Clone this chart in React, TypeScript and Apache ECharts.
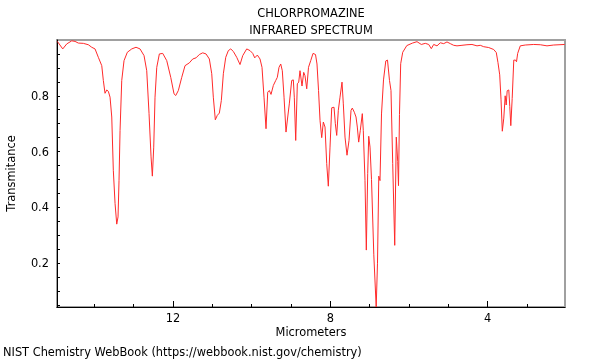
import React, { useEffect, useRef } from "react";
import * as echarts from "echarts";

const titleLines = ["CHLORPROMAZINE", "INFRARED SPECTRUM"];
const xAxisName = "Micrometers";
const yAxisName = "Transmitance";
const footer = "NIST Chemistry WebBook (https://webbook.nist.gov/chemistry)";

const xMajorTicks = [4, 8, 12];
const xMinorTicks = [3, 4, 5, 6, 7, 8, 9, 10, 11, 12, 13, 14];
const yLabels = [0.2, 0.4, 0.6, 0.8];
const yMinorTicks = [0.05, 0.1, 0.15, 0.2, 0.25, 0.3, 0.35, 0.4, 0.45, 0.5, 0.55, 0.6, 0.65, 0.7, 0.75, 0.8, 0.85, 0.9, 0.95];

// wavelength (micrometers)
const wavelength = [
  14.941, 14.804, 14.702, 14.575, 14.491, 14.407, 14.28, 14.153, 14.067, 13.983,
  13.899, 13.812, 13.772, 13.729, 13.685, 13.645, 13.601, 13.558, 13.518, 13.474,
  13.431, 13.398, 13.373, 13.347, 13.304, 13.246, 13.162, 13.05, 12.941, 12.839,
  12.737, 12.669, 12.61, 12.559, 12.526, 12.491, 12.458, 12.414, 12.348, 12.262,
  12.16, 12.058, 11.975, 11.931, 11.865, 11.779, 11.695, 11.586, 11.499, 11.415,
  11.331, 11.245, 11.161, 11.077, 11.016, 10.976, 10.925, 10.874, 10.823, 10.772,
  10.721, 10.66, 10.594, 10.533, 10.467, 10.381, 10.297, 10.228, 10.127, 10.043,
  9.974, 9.923, 9.857, 9.789, 9.738, 9.687, 9.636, 9.593, 9.552, 9.509,
  9.45, 9.389, 9.349, 9.306, 9.262, 9.222, 9.178, 9.128, 9.084, 9.044,
  8.983, 8.942, 8.917, 8.881, 8.84, 8.805, 8.772, 8.721, 8.678, 8.645,
  8.601, 8.556, 8.5, 8.441, 8.378, 8.34, 8.301, 8.263, 8.22, 8.179,
  8.136, 8.093, 8.052, 8.009, 7.966, 7.907, 7.874, 7.839, 7.798, 7.755,
  7.704, 7.671, 7.628, 7.577, 7.526, 7.475, 7.442, 7.391, 7.348, 7.315,
  7.28, 7.239, 7.188, 7.163, 7.12, 7.086, 7.051, 7.025, 6.992, 6.954,
  6.896, 6.835, 6.802, 6.769, 6.738, 6.7, 6.649, 6.591, 6.548, 6.497,
  6.459, 6.415, 6.364, 6.324, 6.288, 6.268, 6.243, 6.212, 6.161, 6.057,
  5.912, 5.798, 5.688, 5.587, 5.5, 5.434, 5.373, 5.289, 5.205, 5.119,
  5.035, 4.951, 4.865, 4.781, 4.654, 4.527, 4.4, 4.272, 4.189, 4.102,
  3.975, 3.848, 3.782, 3.739, 3.695, 3.662, 3.629, 3.591, 3.556, 3.53,
  3.505, 3.464, 3.439, 3.413, 3.378, 3.337, 3.294, 3.268, 3.238, 3.172,
  3.045, 2.831, 2.663, 2.493, 2.323, 2.043,
];

// transmittance
const transmittance = [
  0.995, 0.968, 0.986, 0.997, 0.995, 0.989, 0.988, 0.983, 0.974, 0.968,
  0.938, 0.908, 0.855, 0.809, 0.821, 0.816, 0.795, 0.724, 0.533, 0.414,
  0.34, 0.366, 0.497, 0.676, 0.855, 0.926, 0.956, 0.968, 0.974, 0.968,
  0.944, 0.89, 0.736, 0.581, 0.512, 0.616, 0.795, 0.902, 0.95, 0.952,
  0.926, 0.866, 0.807, 0.801, 0.819, 0.866, 0.908, 0.918, 0.932, 0.936,
  0.948, 0.954, 0.95, 0.932, 0.879, 0.795, 0.714, 0.73, 0.738, 0.783,
  0.879, 0.938, 0.962, 0.968, 0.959, 0.938, 0.912, 0.944, 0.968, 0.962,
  0.952, 0.936, 0.946, 0.932, 0.902, 0.795, 0.682, 0.813, 0.819, 0.805,
  0.837, 0.855, 0.866, 0.902, 0.914, 0.89, 0.795, 0.67, 0.724, 0.771,
  0.855, 0.857, 0.795, 0.64, 0.843, 0.849, 0.89, 0.835, 0.884, 0.872,
  0.825, 0.902, 0.926, 0.952, 0.948, 0.914, 0.819, 0.712, 0.65, 0.706,
  0.688, 0.557, 0.476, 0.616, 0.757, 0.759, 0.7, 0.658, 0.748, 0.795,
  0.849, 0.771, 0.652, 0.587, 0.64, 0.748, 0.756, 0.741, 0.724, 0.688,
  0.634, 0.676, 0.736, 0.676, 0.497, 0.247, 0.521, 0.655, 0.616, 0.5,
  0.23, 0.043, 0.2, 0.512, 0.496, 0.735, 0.857, 0.925, 0.928, 0.855,
  0.819, 0.557, 0.264, 0.652, 0.565, 0.478, 0.733, 0.915, 0.956, 0.98,
  0.989, 0.994, 0.984, 0.988, 0.984, 0.969, 0.984, 0.979, 0.99, 0.987,
  0.993, 0.987, 0.981, 0.979, 0.981, 0.983, 0.984, 0.979, 0.981, 0.976,
  0.973, 0.966, 0.955, 0.919, 0.875, 0.788, 0.673, 0.72, 0.8, 0.767,
  0.818, 0.821, 0.762, 0.693, 0.79, 0.928, 0.928, 0.922, 0.952, 0.979,
  0.982, 0.984, 0.983, 0.979, 0.982, 0.984,
];

const X_MIN = 2.035;
const X_MAX = 14.95;
const Y_MIN = 0.043;
const Y_MAX = 1.0;

export default function App() {
  const ref = useRef<HTMLDivElement>(null);
  useEffect(() => {
    if (!ref.current) return;
    const chart = echarts.init(ref.current, null, { renderer: "svg" });
    const font = "DejaVu Sans";
    const fs = 11.4;
    const data = wavelength.map((w, i) => [w, transmittance[i]]);
    chart.setOption({
      animation: false,
      textStyle: { fontFamily: font },
      graphic: [
        {
          type: "text",
          x: 311,
          y: 13,
          style: { text: titleLines[0], fontFamily: font, fontSize: fs, fill: "#000", textAlign: "center", textVerticalAlign: "middle" },
        },
        {
          type: "text",
          x: 311,
          y: 30,
          style: { text: titleLines[1], fontFamily: font, fontSize: fs, fill: "#000", textAlign: "center", textVerticalAlign: "middle" },
        },
        {
          type: "text",
          x: 3,
          y: 352,
          style: { text: footer, fontFamily: font, fontSize: fs, fill: "#000", textAlign: "left", textVerticalAlign: "middle" },
        },
      ],
      grid: {
        left: 57,
        right: 35,
        top: 40,
        bottom: 53,
        outerBoundsMode: "none",
        containLabel: false,
        show: true,
        borderColor: "#a0a0a0",
        borderWidth: 2,
        backgroundColor: "transparent",
      },
      xAxis: [
        {
          type: "value",
          inverse: true,
          min: X_MIN,
          max: X_MAX,
          position: "bottom",
          name: xAxisName,
          nameLocation: "middle",
          nameGap: 19,
          nameTextStyle: { fontFamily: font, fontSize: fs, color: "#000" },
          axisLine: { show: true, lineStyle: { color: "#000", width: 1 } },
          axisTick: { show: true, inside: true, length: 3, customValues: xMinorTicks, lineStyle: { color: "#000" } },
          axisLabel: { show: false },
          splitLine: { show: false },
        },
        {
          type: "value",
          inverse: true,
          min: X_MIN,
          max: X_MAX,
          position: "bottom",
          offset: 0,
          axisLine: { show: false },
          axisTick: { show: true, inside: true, length: 6, customValues: xMajorTicks, lineStyle: { color: "#000" } },
          axisLabel: {
            show: true,
            customValues: xMajorTicks,
            margin: 5,
            fontFamily: font,
            fontSize: fs,
            color: "#000",
          },
          splitLine: { show: false },
        },
      ],
      yAxis: {
        type: "value",
        min: Y_MIN,
        max: Y_MAX,
        name: yAxisName,
        nameLocation: "middle",
        nameGap: 41,
        nameTextStyle: { fontFamily: font, fontSize: fs, color: "#000" },
        axisLine: { show: true, lineStyle: { color: "#000", width: 1 } },
        axisTick: { show: true, inside: true, length: 3, customValues: yMinorTicks, lineStyle: { color: "#000" } },
        axisLabel: {
          show: true,
          customValues: yLabels,
          margin: 8,
          fontFamily: font,
          fontSize: fs,
          color: "#000",
          formatter: (v: number) => v.toFixed(1),
        },
        splitLine: { show: false },
      },
      series: [
        {
          type: "line",
          xAxisIndex: 0,
          data,
          showSymbol: false,
          symbol: "none",
          lineStyle: { color: "#ff2a2a", width: 1 },
          clip: true,
        },
      ],
    });
    return () => chart.dispose();
  }, []);
  return <div ref={ref} style={{ width: 600, height: 360, position: "fixed", left: 0, top: 0 }} />;
}
